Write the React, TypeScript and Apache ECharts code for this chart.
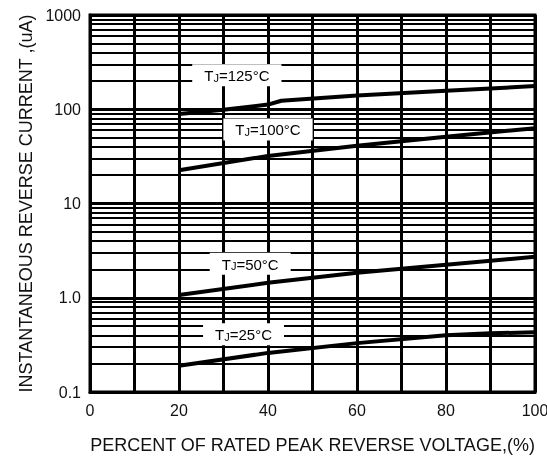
import React, { useEffect, useRef } from "react";
import * as echarts from "echarts";

const xTicks = [0, 20, 40, 60, 80, 100];
const yDecades = [0.1, 1, 10, 100, 1000];
const minorGrid = [
  0.2, 0.3, 0.4, 0.5, 0.6, 0.7, 0.8, 0.9,
  2, 3, 4, 5, 6, 7, 8, 9,
  20, 30, 40, 50, 60, 70, 80, 90,
  200, 300, 400, 500, 600, 700, 800, 900,
];

const tj125X = [20, 30, 40, 43, 60, 80, 100];
const tj125Y = [89, 99, 112, 123, 140, 157, 176];
const tj100X = [20, 40, 60, 80, 100];
const tj100Y = [22.5, 32, 41, 51, 63];
const tj50X = [20, 40, 60, 80, 100];
const tj50Y = [1.07, 1.44, 1.84, 2.24, 2.72];
const tj25X = [20, 40, 60, 80, 90, 100];
const tj25Y = [0.19, 0.26, 0.33, 0.4, 0.42, 0.43];

const labelNames = ["125", "100", "50", "25"];
const labelX = [33, 40, 36, 34.5];
const labelY = [230, 61, 2.3, 0.41];

const zip = (xs: number[], ys: number[]) => xs.map((x, i) => [x, ys[i]]);

export default function App() {
  const ref = useRef<HTMLDivElement>(null);
  useEffect(() => {
    if (!ref.current) return;
    const chart = echarts.init(ref.current, undefined, { renderer: "svg" });
    const font = "'Liberation Sans', Arial, sans-serif";
    const curveStyle = { color: "#000", width: 4 };
    const curves = [
      zip(tj125X, tj125Y),
      zip(tj100X, tj100Y),
      zip(tj50X, tj50Y),
      zip(tj25X, tj25Y),
    ];
    chart.setOption({
      animation: false,
      grid: {
        left: 90,
        right: 12,
        top: 15,
        bottom: 65,
        outerBoundsMode: "none",
        containLabel: false,
        show: true,
        borderColor: "#000",
        borderWidth: 3,
      },
      xAxis: {
        type: "value",
        min: 0,
        max: 100,
        interval: 10,
        name: "PERCENT OF RATED PEAK REVERSE VOLTAGE,(%)",
        nameLocation: "middle",
        nameGap: 44,
        nameTextStyle: { fontFamily: font, fontSize: 18, color: "#111" },
        axisLine: { show: true, lineStyle: { color: "#000", width: 3 } },
        axisTick: { show: false },
        axisLabel: {
          fontFamily: font,
          fontSize: 16,
          color: "#111",
          margin: 10,
          formatter: (v: number) => (xTicks.includes(v) ? String(v) : ""),
        },
        splitLine: { show: true, lineStyle: { color: "#000", width: 3 } },
      },
      yAxis: {
        type: "log",
        logBase: 10,
        min: 0.1,
        max: 1000,
        name: "INSTANTANEOUS REVERSE CURRENT ,(uA)",
        nameLocation: "middle",
        nameGap: 54,
        nameTextStyle: { fontFamily: font, fontSize: 18, color: "#111" },
        axisLine: { show: true, lineStyle: { color: "#000", width: 3 } },
        axisTick: { show: false },
        axisLabel: {
          fontFamily: font,
          fontSize: 16,
          color: "#111",
          margin: 9,
          formatter: (v: number) => {
            const d = yDecades.find((t) => Math.abs(t - v) / t < 1e-6);
            if (d === undefined) return "";
            return d === 1 ? "1.0" : String(d);
          },
        },
        splitLine: { show: true, lineStyle: { color: "#000", width: 3 } },
      },
      series: [
        {
          type: "line",
          data: [],
          silent: true,
          markLine: {
            silent: true,
            symbol: "none",
            label: { show: false },
            lineStyle: { color: "#000", width: 2, type: "solid" },
            data: minorGrid.map((v) => ({ yAxis: v })),
          },
        },
        ...curves.map((d) => ({
          type: "line",
          data: d,
          showSymbol: false,
          symbol: "none",
          lineStyle: curveStyle,
          z: 3,
        })),
        {
          type: "scatter",
          symbolSize: 0,
          z: 5,
          silent: true,
          itemStyle: { opacity: 1 },
          emphasis: { disabled: true },
          data: labelNames.map((n, i) => ({
            value: [labelX[i], labelY[i]],
            name: n,
          })),
          label: {
            show: true,
            position: "inside",
            opacity: 1,
            formatter: (p: any) => `{t|T}{j|J}{t|=${p.name}°C}`,
            backgroundColor: "#fff",
            padding: [4, 12, 3, 12],
            rich: {
              t: { fontFamily: font, fontSize: 15, color: "#000" },
              j: { fontFamily: font, fontSize: 11, color: "#000", verticalAlign: "bottom", padding: [3, 0, 0, 0] },
            },
          },
        },
      ],
    });
    return () => chart.dispose();
  }, []);
  return (
    <div
      ref={ref}
      style={{ position: "fixed", left: 0, top: 0, width: 547, height: 457 }}
    />
  );
}
